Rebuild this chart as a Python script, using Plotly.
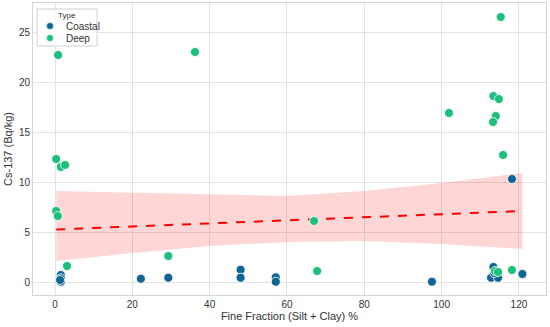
import plotly.graph_objects as go

# Data
coastal_x = [1.5, 1.5, 1.5, 1.3, 22.2, 29.3, 48.0, 48.0, 57.1, 57.1, 97.5, 113.4, 112.8, 114.6, 113.6, 120.9, 118.2]
coastal_y = [0.7, 0.37, 0.03, 0.2, 0.33, 0.43, 1.23, 0.43, 0.47, 0.03, 0.03, 1.5, 0.43, 0.43, 0.9, 0.8, 10.3]
deep_x = [0.8, 36.2, 0.3, 1.5, 2.6, 0.3, 0.7, 3.1, 29.3, 67.0, 67.8, 101.9, 115.3, 113.4, 114.8, 114.0, 113.3, 115.9, 118.2, 113.8, 114.6]
deep_y = [22.7, 23.0, 12.3, 11.5, 11.7, 7.1, 6.6, 1.6, 2.6, 6.1, 1.1, 16.9, 26.5, 18.6, 18.3, 16.6, 16.0, 12.7, 1.2, 1.1, 1.0]

fit_x = [0.3, 120.9]
fit_y = [5.25, 7.1]

band_x = [0.3, 20, 40, 60, 80, 100, 120.9]
band_upper = [9.1, 8.95, 8.75, 8.6, 9.1, 9.9, 10.9]
band_lower = [2.1, 2.9, 3.6, 4.0, 4.1, 3.8, 3.3]

legend_title = "Type"
legend_names = ["Coastal", "Deep"]

coastal_color = "#0f6593"
deep_color = "#1dbf7c"
legend_colors = [coastal_color, deep_color]

W, H = 550, 327
ML, MR, MT, MB = 33, 4, 3, 32
XR = [-5.7, 127]
YR = [-1.3, 27.9]


def dx(p):
    return XR[0] + (p - ML) / (W - ML - MR) * (XR[1] - XR[0])


def dy(p):
    return YR[0] + (H - MB - p) / (H - MT - MB) * (YR[1] - YR[0])


fig = go.Figure()

fig.add_trace(go.Scatter(x=band_x, y=band_lower, mode="lines", line=dict(width=0),
                         showlegend=False, hoverinfo="skip"))
fig.add_trace(go.Scatter(x=band_x, y=band_upper, mode="lines", line=dict(width=0),
                         fill="tonexty", fillcolor="rgba(255,0,0,0.16)",
                         showlegend=False, hoverinfo="skip"))
fig.add_trace(go.Scatter(x=fit_x, y=fit_y, mode="lines",
                         line=dict(color="red", width=2, dash="dash"),
                         showlegend=False))

fig.add_trace(go.Scatter(x=coastal_x, y=coastal_y, mode="markers", name="Coastal", showlegend=False,
                         marker=dict(color=coastal_color, size=9, line=dict(color="white", width=0.8))))
fig.add_trace(go.Scatter(x=deep_x, y=deep_y, mode="markers", name="Deep", showlegend=False,
                         marker=dict(color=deep_color, size=9, line=dict(color="white", width=0.8))))

# Custom compact legend (seaborn style)
shapes = [dict(type="rect", xref="x", yref="y",
               x0=dx(37), x1=dx(97), y0=dy(46), y1=dy(9),
               fillcolor="rgba(255,255,255,0.85)", line=dict(color="#d0d0d0", width=1), layer="above")]
annotations = [dict(text=legend_title, xref="x", yref="y", x=dx(67), y=dy(15),
                    xanchor="center", yanchor="middle", showarrow=False,
                    font=dict(size=8, color="#333333"))]
for i, (name, col) in enumerate(zip(legend_names, legend_colors)):
    cy = 26 + 12 * i
    shapes.append(dict(type="circle", xref="x", yref="y",
                       x0=dx(46.5), x1=dx(53.5), y0=dy(cy + 3.5), y1=dy(cy - 3.5),
                       fillcolor=col, line=dict(color="white", width=0.6), layer="above"))
    annotations.append(dict(text=name, xref="x", yref="y", x=dx(64), y=dy(cy),
                            xanchor="left", yanchor="middle", showarrow=False,
                            font=dict(size=10, color="#333333")))

axis_common = dict(showgrid=True, gridcolor="#e3e3e3", gridwidth=1, zeroline=False,
                   showline=True, linecolor="#d5d5d5", linewidth=1, mirror=True,
                   ticks="", tickfont=dict(size=10, color="#333333"), automargin=False)

fig.update_layout(
    template="none",
    width=W, height=H,
    margin=dict(l=ML, r=MR, t=MT, b=MB, autoexpand=False),
    paper_bgcolor="white", plot_bgcolor="white",
    font=dict(family="Liberation Sans, Arial, sans-serif", color="#333333"),
    showlegend=False,
    xaxis=dict(range=XR, tickvals=[0, 20, 40, 60, 80, 100, 120],
               title=dict(text="Fine Fraction (Silt + Clay) %", font=dict(size=11), standoff=2),
               **axis_common),
    yaxis=dict(range=YR, tickvals=[0, 5, 10, 15, 20, 25],
               title=dict(text="Cs-137 (Bq/kg)", font=dict(size=11), standoff=4),
               **axis_common),
    shapes=shapes,
    annotations=annotations,
)

fig.write_html("out.html", config={"displayModeBar": False},
               post_script="document.body.style.margin='0';document.body.style.overflow='hidden';")
